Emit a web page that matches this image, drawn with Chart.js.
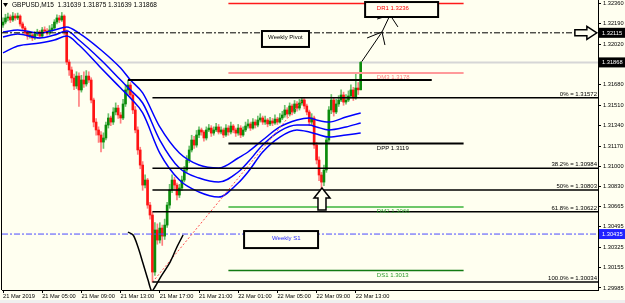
<!DOCTYPE html>
<html>
<head>
<meta charset="utf-8">
<title>GBPUSD M15</title>
<script src="https://cdn.jsdelivr.net/npm/chart.js@4.4.1/dist/chart.umd.min.js"></script>
<style>
  html, body { margin: 0; padding: 0; background: #fffff0; overflow: hidden; }
  canvas { display: block; }
</style>
</head>
<body>
<canvas id="gbpChart" width="625" height="303"></canvas>
<script>
var symbol = "GBPUSD";
var timeframe = "M15";

// M15 bars, bar 0 = 21 Mar 2019 01:00
var opens = [1.32180,1.32205,1.32239,1.32247,1.32222,1.32255,1.32239,1.32255,1.32189,1.32155,
  1.32113,1.32088,1.32097,1.32072,1.32105,1.32122,1.32088,1.32139,1.32130,1.32113,
  1.32139,1.32155,1.32205,1.32239,1.32222,1.32255,1.32122,1.31871,1.31805,1.31738,
  1.31671,1.31754,1.31638,1.31721,1.31688,1.31754,1.31721,1.31554,1.31370,1.31304,
  1.31262,1.31203,1.31237,1.31345,1.31404,1.31370,1.31454,1.31487,1.31429,1.31404,
  1.31521,1.31638,1.31679,1.31596,1.31471,1.31304,1.31137,1.31011,1.30844,1.30886,
  1.30677,1.30594,1.30118,1.30469,1.30385,1.30485,1.30418,1.30510,1.30677,1.30803,
  1.30886,1.30844,1.30761,1.30819,1.30886,1.30970,1.31053,1.31137,1.31220,1.31178,
  1.31262,1.31304,1.31287,1.31237,1.31304,1.31320,1.31278,1.31304,1.31329,1.31287,
  1.31304,1.31262,1.31320,1.31287,1.31337,1.31304,1.31278,1.31320,1.31262,1.31304,
  1.31337,1.31354,1.31320,1.31370,1.31345,1.31387,1.31404,1.31370,1.31387,1.31354,
  1.31379,1.31362,1.31395,1.31370,1.31404,1.31429,1.31471,1.31437,1.31504,1.31454,
  1.31521,1.31487,1.31529,1.31554,1.31504,1.31454,1.31370,1.31404,1.31178,1.31053,
  1.30928,1.30869,1.30970,1.31220,1.31471,1.31554,1.31454,1.31521,1.31554,1.31596,
  1.31537,1.31554,1.31588,1.31638,1.31571,1.31654,1.31639];
var highs = [1.32240,1.32270,1.32280,1.32265,1.32285,1.32275,1.32280,1.32265,1.32205,1.32170,
  1.32130,1.32120,1.32110,1.32125,1.32145,1.32135,1.32160,1.32165,1.32150,1.32175,
  1.32185,1.32225,1.32265,1.32260,1.32285,1.32265,1.32140,1.31890,1.31830,1.31770,
  1.31790,1.31780,1.31760,1.31790,1.31800,1.31790,1.31740,1.31570,1.31400,1.31330,
  1.31290,1.31280,1.31370,1.31440,1.31420,1.31490,1.31530,1.31510,1.31450,1.31560,
  1.31680,1.31721,1.31700,1.31620,1.31500,1.31330,1.31160,1.31040,1.30930,1.30900,
  1.30700,1.30620,1.30530,1.30520,1.30530,1.30510,1.30560,1.30700,1.30850,1.30930,
  1.30910,1.30860,1.30850,1.30920,1.31000,1.31090,1.31170,1.31260,1.31250,1.31300,
  1.31330,1.31320,1.31300,1.31330,1.31350,1.31340,1.31330,1.31360,1.31350,1.31330,
  1.31320,1.31350,1.31340,1.31370,1.31350,1.31320,1.31350,1.31340,1.31330,1.31370,
  1.31390,1.31370,1.31400,1.31390,1.31420,1.31440,1.31420,1.31420,1.31400,1.31410,
  1.31400,1.31430,1.31410,1.31440,1.31460,1.31510,1.31490,1.31530,1.31520,1.31550,
  1.31540,1.31560,1.31572,1.31565,1.31520,1.31470,1.31440,1.31420,1.31200,1.31080,
  1.30950,1.31010,1.31250,1.31500,1.31600,1.31570,1.31560,1.31590,1.31640,1.31620,
  1.31600,1.31630,1.31680,1.31660,1.31780,1.31700,1.31875];
var lows = [1.32160,1.32190,1.32215,1.32200,1.32210,1.32220,1.32225,1.32170,1.32130,1.32095,
  1.32060,1.32070,1.32050,1.32060,1.32090,1.32070,1.32080,1.32110,1.32095,1.32100,
  1.32120,1.32140,1.32190,1.32200,1.32210,1.32100,1.31850,1.31760,1.31700,1.31640,
  1.31650,1.31500,1.31620,1.31660,1.31670,1.31700,1.31530,1.31330,1.31260,1.31200,
  1.31120,1.31150,1.31220,1.31320,1.31340,1.31350,1.31430,1.31400,1.31360,1.31390,
  1.31500,1.31600,1.31570,1.31440,1.31280,1.31100,1.30980,1.30800,1.30820,1.30650,
  1.30560,1.30034,1.30090,1.30350,1.30360,1.30340,1.30390,1.30490,1.30650,1.30780,
  1.30800,1.30720,1.30740,1.30800,1.30870,1.30950,1.31030,1.31120,1.31150,1.31160,
  1.31240,1.31260,1.31210,1.31220,1.31290,1.31250,1.31260,1.31290,1.31270,1.31270,
  1.31240,1.31250,1.31260,1.31270,1.31280,1.31250,1.31260,1.31240,1.31250,1.31290,
  1.31320,1.31300,1.31310,1.31320,1.31330,1.31370,1.31350,1.31350,1.31330,1.31340,
  1.31340,1.31350,1.31350,1.31360,1.31390,1.31410,1.31410,1.31420,1.31430,1.31440,
  1.31460,1.31470,1.31510,1.31480,1.31430,1.31340,1.31350,1.31150,1.31020,1.30880,
  1.30803,1.30840,1.30950,1.31200,1.31440,1.31420,1.31440,1.31500,1.31540,1.31510,
  1.31520,1.31540,1.31570,1.31550,1.31560,1.31600,1.31639];
var closes = [1.32205,1.32239,1.32247,1.32222,1.32255,1.32239,1.32255,1.32189,1.32155,1.32113,
  1.32088,1.32097,1.32072,1.32105,1.32122,1.32088,1.32139,1.32130,1.32113,1.32139,
  1.32155,1.32205,1.32239,1.32222,1.32255,1.32122,1.31871,1.31805,1.31738,1.31671,
  1.31754,1.31638,1.31721,1.31688,1.31754,1.31721,1.31554,1.31370,1.31304,1.31262,
  1.31203,1.31237,1.31345,1.31404,1.31370,1.31454,1.31487,1.31429,1.31404,1.31521,
  1.31638,1.31679,1.31596,1.31471,1.31304,1.31137,1.31011,1.30844,1.30886,1.30677,
  1.30594,1.30118,1.30469,1.30385,1.30485,1.30418,1.30510,1.30677,1.30803,1.30886,
  1.30844,1.30761,1.30819,1.30886,1.30970,1.31053,1.31137,1.31220,1.31178,1.31262,
  1.31304,1.31287,1.31237,1.31304,1.31320,1.31278,1.31304,1.31329,1.31287,1.31304,
  1.31262,1.31320,1.31287,1.31337,1.31304,1.31278,1.31320,1.31262,1.31304,1.31337,
  1.31354,1.31320,1.31370,1.31345,1.31387,1.31404,1.31370,1.31387,1.31354,1.31379,
  1.31362,1.31395,1.31370,1.31404,1.31429,1.31471,1.31437,1.31504,1.31454,1.31521,
  1.31487,1.31529,1.31554,1.31504,1.31454,1.31370,1.31404,1.31178,1.31053,1.30928,
  1.30869,1.30970,1.31220,1.31471,1.31554,1.31454,1.31521,1.31554,1.31596,1.31537,
  1.31554,1.31588,1.31638,1.31571,1.31654,1.31639,1.31868];

var xTickBars = [0, 16, 32, 48, 64, 80, 96, 112, 128, 144];
var xTickLabels = ["21 Mar 2019", "21 Mar 05:00", "21 Mar 09:00", "21 Mar 13:00", "21 Mar 17:00",
  "21 Mar 21:00", "22 Mar 01:00", "22 Mar 05:00", "22 Mar 09:00", "22 Mar 13:00"];
var yTickValues = [1.32360, 1.32190, 1.32020, 1.31850, 1.31680, 1.31510, 1.31340, 1.31170,
  1.31000, 1.30830, 1.30665, 1.30495, 1.30325, 1.30155, 1.29985];

// moving average envelope, read every few bars
var maBars = [0, 6, 15, 21, 26, 31, 40, 48, 52, 57, 64, 72, 80, 88, 96, 100, 106, 113, 120, 125, 128, 133, 140, 146];
var maUpper = [1.32122,1.32139,1.32113,1.32139,1.32164,1.32113,1.31972,1.31821,1.31721,1.31613,1.31329,1.31111,
  1.31011,1.30986,1.31070,1.31120,1.31220,1.31329,1.31387,1.31404,1.31387,1.31370,1.31412,1.31446];
var maMiddle = [1.32080,1.32105,1.32072,1.32097,1.32130,1.32055,1.31888,1.31721,1.31638,1.31529,1.31220,1.30986,
  1.30903,1.30869,1.30953,1.31036,1.31178,1.31295,1.31345,1.31345,1.31329,1.31304,1.31329,1.31362];
var maLower = [1.31947,1.32005,1.32030,1.32055,1.32088,1.32013,1.31821,1.31654,1.31571,1.31446,1.31111,1.30886,
  1.30786,1.30744,1.30861,1.30953,1.31120,1.31245,1.31304,1.31287,1.31270,1.31245,1.31262,1.31279];

// daily pivots for 22 Mar
var dayNames = ["DR1", "DM3", "DPP", "DM2", "DS1"];
var dayValues = [1.3236, 1.3178, 1.3119, 1.3066, 1.3013];
var dayFrom = 92, dayTo = 188, dayLabelBar = 152.6;

var weeklyPivot = 1.32115;
var weeklyS1 = 1.30435;

// fibonacci from the low to the high
var fibNames = ["0%", "38.2%", "50%", "61.8%", "100.0%"];
var fibValues = [1.31572, 1.30984, 1.30803, 1.30622, 1.30034];
var fibLowBar = 61, fibHighBar = 123;

var swingHigh = 1.31721, swingFrom = 51, swingTo = 175;

// hand drawn strokes
var vBars = [51.0, 53.1, 55.1, 57.1, 59.2, 60.7, 62.0, 64.1, 68.2, 71.0, 73.5];
var vPrices = [1.30452, 1.30427, 1.30327, 1.30193, 1.30051, 1.29959, 1.29993, 1.30068, 1.30201, 1.30327, 1.30427];
var arrowBars = [146.4, 154.7, 158.0];
var arrowPrices = [1.31874, 1.32122, 1.32264];
var head1Bars = [148.6, 154.7, 155.9];
var head1Prices = [1.32072, 1.32122, 1.32013];
var head2Bars = [152.7, 158.0, 161.2];
var head2Prices = [1.32230, 1.32264, 1.32164];

// rectangles and notes
var boxBarsFrom = [147.8, 105.7, 98.4];
var boxBarsTo = [177.6, 124.9, 128.6];
var boxTops = [1.32372, 1.32130, 1.30460];
var boxBottoms = [1.32247, 1.31997, 1.30318];
var noteTexts = ["Weekly Pivot", "Weekly S1"];
var noteBars = [108.2, 109.8];
var notePrices = [1.32076, 1.30398];

var upArrowBar = 130.2, upArrowPrice = 1.30819;
var rightArrowBar = 242.4, rightArrowPrice = 1.32115;

var lastBar = closes.length - 1;
var xMin = -0.41, xMax = 242.86;
var yMin = 1.29968, yMax = 1.32389;

var bg = "#fffff0";
var upBody = "#0c8c0c", upWick = "#6cbf6c", downBody = "#ff1414", downWick = "#ff8080";
var dayColors = ["#ff1a1a", "#ff9a9a", "#000000", "#3cb43c", "#127a12"];
var dayTextColors = ["#ff0000", "#ff7f7f", "#000000", "#33aa33", "#2a9a2a"];
var dayWidths = [1.5, 2, 2, 1.5, 1.5];
var noteColors = ["#000000", "#2a2aff"];
var font = '"Liberation Sans", Arial, sans-serif';

function pts(xs, ys) {
  return xs.map(function (x, i) { return { x: x, y: ys[i] }; });
}
function flat(from, to, v) {
  return [{ x: from, y: v }, { x: to, y: v }];
}
function lineSet(data, color, width, dash, order) {
  return { type: "line", data: data, borderColor: color, borderWidth: width, borderDash: dash || [],
    pointRadius: 0, fill: false, tension: 0, order: order };
}

var datasets = [];
datasets.push(lineSet(flat(xMin, xMax, closes[lastBar]), "#d6d6d6", 2, null, 40));
datasets.push({
  type: "bar",
  data: closes.map(function (c, i) { return { x: i, y: [lows[i], highs[i]] }; }),
  backgroundColor: closes.map(function (c, i) { return c >= opens[i] ? upWick : downWick; }),
  barThickness: 1, grouped: false, order: 31
});
datasets.push({
  type: "bar",
  data: closes.map(function (c, i) { return { x: i, y: [opens[i], c] }; }),
  backgroundColor: closes.map(function (c, i) { return c >= opens[i] ? upBody : downBody; }),
  barThickness: 2, minBarLength: 1, grouped: false, order: 30
});

[maUpper, maMiddle, maLower].forEach(function (ma) {
  var s = lineSet(pts(maBars, ma), "#0000ff", 1.5, null, 5);
  s.cubicInterpolationMode = "monotone";
  datasets.push(s);
});

datasets.push(lineSet(flat(xMin, xMax, weeklyPivot), "#000000", 1, [6, 2, 2, 2], 4));
datasets.push(lineSet(flat(xMin, xMax, weeklyS1), "#4b4bff", 1, [6, 2, 2, 2], 4));
dayValues.forEach(function (v, i) {
  datasets.push(lineSet(flat(dayFrom, dayTo, v), dayColors[i], dayWidths[i], null, 3));
});
fibValues.forEach(function (v) {
  datasets.push(lineSet(flat(fibLowBar, xMax, v), "#000000", 1.5, null, 3));
});
datasets.push(lineSet(flat(swingFrom, swingTo, swingHigh), "#000000", 2, null, 3));
datasets.push(lineSet(pts([fibLowBar, fibHighBar], [fibValues[4], fibValues[0]]), "#ff5050", 1, [2, 2], 3));

var vStroke = lineSet(pts(vBars, vPrices), "#000000", 1.5, null, 2);
vStroke.tension = 0.3;
datasets.push(vStroke);
datasets.push(lineSet(pts(arrowBars, arrowPrices), "#000000", 1, null, 2));
datasets.push(lineSet(pts(head1Bars, head1Prices), "#000000", 1, null, 2));
datasets.push(lineSet(pts(head2Bars, head2Prices), "#000000", 1, null, 2));

function drawShape(ctx, x, y, shape) {
  ctx.beginPath();
  ctx.moveTo(x + shape[0][0], y + shape[0][1]);
  for (var i = 1; i < shape.length; i++) ctx.lineTo(x + shape[i][0], y + shape[i][1]);
  ctx.closePath();
  ctx.fillStyle = bg;
  ctx.fill();
  ctx.strokeStyle = "#000";
  ctx.lineWidth = 1.5;
  ctx.stroke();
}

var overlay = {
  id: "overlay",
  beforeDraw: function (chart) {
    var ctx = chart.ctx;
    ctx.save();
    ctx.fillStyle = bg;
    ctx.fillRect(0, 0, chart.width, chart.height);
    ctx.fillStyle = "#efefef";
    ctx.fillRect(0, 300, chart.width, chart.height - 300);
    ctx.restore();
  },
  afterDatasetsDraw: function (chart) {
    var ctx = chart.ctx, xs = chart.scales.x, ys = chart.scales.y, area = chart.chartArea;
    function X(v) { return xs.getPixelForValue(v); }
    function Y(v) { return ys.getPixelForValue(v); }
    ctx.save();

    // rectangles
    ctx.lineWidth = 2;
    ctx.strokeStyle = "#000";
    boxBarsFrom.forEach(function (b, i) {
      var x1 = X(b), x2 = X(boxBarsTo[i]), y1 = Y(boxTops[i]), y2 = Y(boxBottoms[i]);
      ctx.fillStyle = bg;
      ctx.fillRect(x1, y1, x2 - x1, y2 - y1);
      ctx.strokeRect(x1, y1, x2 - x1, y2 - y1);
    });

    ctx.font = "6px " + font;
    ctx.textBaseline = "middle";
    ctx.textAlign = "left";
    noteTexts.forEach(function (t, i) {
      ctx.fillStyle = noteColors[i];
      ctx.fillText(t, X(noteBars[i]), Y(notePrices[i]));
    });

    // daily pivot labels under their lines
    ctx.textBaseline = "top";
    dayNames.forEach(function (n, i) {
      ctx.fillStyle = dayTextColors[i];
      ctx.fillText(n + " " + dayValues[i].toFixed(4), X(dayLabelBar), Y(dayValues[i]) + 1.5);
    });

    // fibonacci labels
    ctx.textAlign = "right";
    ctx.textBaseline = "bottom";
    ctx.fillStyle = "#000";
    fibNames.forEach(function (n, i) {
      ctx.fillText(n + " = " + fibValues[i].toFixed(5), area.right - 1, Y(fibValues[i]) - 0.5);
    });

    // hollow arrows
    drawShape(ctx, X(upArrowBar), Y(upArrowPrice),
      [[0, 0], [8, 10], [4, 10], [4, 22], [-4, 22], [-4, 10], [-8, 10]]);
    drawShape(ctx, X(rightArrowBar), Y(rightArrowPrice),
      [[0, 0], [-10, -6.5], [-10, -3], [-22, -3], [-22, 3], [-10, 3], [-10, 6.5]]);

    // header
    ctx.fillStyle = "#000";
    ctx.beginPath();
    ctx.moveTo(3, 3); ctx.lineTo(8, 3); ctx.lineTo(5.5, 7); ctx.closePath(); ctx.fill();
    ctx.font = "6.5px " + font;
    ctx.textAlign = "left";
    ctx.textBaseline = "middle";
    ctx.fillText(symbol + "," + timeframe + "  " + opens[lastBar].toFixed(5) + " " + highs[lastBar].toFixed(5) +
      " " + lows[lastBar].toFixed(5) + " " + closes[lastBar].toFixed(5), 12, 5.5);

    // left frame
    ctx.fillRect(1, 0, 1, area.bottom);

    // price marks on the axis
    ctx.font = "5.7px " + font;
    [weeklyPivot, closes[lastBar], weeklyS1].forEach(function (v, i) {
      var y = Y(v);
      ctx.fillStyle = i === 2 ? "#2020ff" : "#000";
      ctx.fillRect(area.right + 1, y - 5, 26, 10);
      ctx.fillStyle = "#fff";
      ctx.fillText(v.toFixed(5), area.right + 4, y + 0.5);
    });
    ctx.restore();
  }
};

Chart.defaults.font.family = font;

var gbpChart = new Chart(document.getElementById("gbpChart"), {
  type: "bar",
  data: { datasets: datasets },
  options: {
    responsive: false,
    animation: false,
    layout: { padding: { left: 2, top: 0, right: 0, bottom: 0 } },
    plugins: { legend: { display: false }, tooltip: { enabled: false } },
    scales: {
      x: {
        type: "linear", min: xMin, max: xMax, offset: false, bounds: "data",
        grid: { display: true, offset: false, drawOnChartArea: false, drawTicks: true, tickLength: 3, color: "#000" },
        border: { display: true, color: "#000" },
        afterBuildTicks: function (s) { s.ticks = xTickBars.map(function (v) { return { value: v }; }); },
        afterFit: function (s) { s.height = 13; s.paddingLeft = 0; s.paddingRight = 0; },
        ticks: {
          autoSkip: false, maxRotation: 0, minRotation: 0, align: "start", padding: 0,
          color: "#000", font: { size: 5.7 },
          callback: function (v, i) { return xTickLabels[i]; }
        }
      },
      y: {
        type: "linear", position: "right", min: yMin, max: yMax, bounds: "data",
        grid: { display: true, drawOnChartArea: false, drawTicks: true, tickLength: 3, color: "#000" },
        border: { display: true, color: "#000" },
        afterBuildTicks: function (s) { s.ticks = yTickValues.map(function (v) { return { value: v }; }); },
        afterFit: function (s) { s.width = 27; s.paddingTop = 0; s.paddingBottom = 0; },
        ticks: {
          autoSkip: false, padding: 2, color: "#000", font: { size: 5.7 },
          callback: function (v) { return v.toFixed(5); }
        }
      }
    }
  },
  plugins: [overlay]
});
</script>
</body>
</html>
